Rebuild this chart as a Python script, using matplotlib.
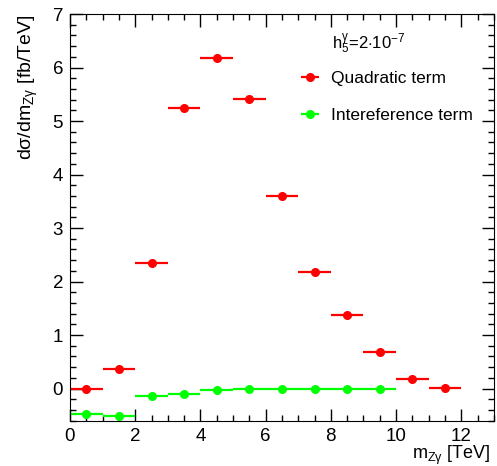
import numpy as np
import matplotlib
matplotlib.use("Agg")
import matplotlib.pyplot as plt
from matplotlib.ticker import MultipleLocator

plt.rcParams["font.family"] = ["Liberation Sans", "DejaVu Sans"]
plt.rcParams["mathtext.fontset"] = "custom"
plt.rcParams["mathtext.rm"] = "Liberation Sans"
plt.rcParams["mathtext.it"] = "Liberation Sans"

# bin centres (TeV)
bins_quad = [0.5, 1.5, 2.5, 3.5, 4.5, 5.5, 6.5, 7.5, 8.5, 9.5, 10.5, 11.5]
quadratic = [0.0, 0.37, 2.35, 5.24, 6.17, 5.41, 3.59, 2.17, 1.38, 0.69, 0.18, 0.01]

bins_int = [0.5, 1.5, 2.5, 3.5, 4.5, 5.5, 6.5, 7.5, 8.5, 9.5]
interference = [-0.48, -0.52, -0.13, -0.105, -0.025, -0.01, -0.005, -0.01, -0.005, -0.005]

RED = "#ff0000"
GREEN = "#00ff00"

fig = plt.figure(figsize=(4.97, 4.66), dpi=100)
ax = fig.add_axes([0.1408, 0.0972, 0.853, 0.8727])

ax.errorbar(bins_quad, quadratic, xerr=0.5, fmt="o", color=RED, ms=5.5,
            elinewidth=1.6, capsize=0, label="Quadratic term")
ax.errorbar(bins_int, interference, xerr=0.5, fmt="o", color=GREEN, ms=5.5,
            elinewidth=1.6, capsize=0, label="Intereference term")

ax.set_xlim(0, 13)
ax.set_ylim(-0.6, 7)
ax.xaxis.set_major_locator(MultipleLocator(2))
ax.xaxis.set_minor_locator(MultipleLocator(0.5))
ax.yaxis.set_major_locator(MultipleLocator(1))
ax.yaxis.set_minor_locator(MultipleLocator(0.2))
ax.tick_params(which="both", direction="in", top=True, right=True, labelsize=13.5)
ax.tick_params(which="major", length=9, width=1)
ax.tick_params(which="minor", length=4.5, width=1)
ax.tick_params(axis="x", which="major", pad=5)
ax.tick_params(axis="y", which="major", pad=5)

ax.set_xlabel(r"m$_{Z\gamma}$ [TeV]", fontsize=13, loc="right")
ax.xaxis.set_label_coords(0.992, -0.057)
ax.set_ylabel(r"d$\sigma$/dm$_{Z\gamma}$ [fb/TeV]", fontsize=14, loc="top", labelpad=9)

ax.text(0.705, 0.926, r"h$_5^{\gamma}$=2$\cdot$10$^{-7}$", transform=ax.transAxes,
        ha="center", va="center", fontsize=12)

ax.legend(loc="upper left", bbox_to_anchor=(0.533, 0.861), frameon=False, fontsize=12.5,
          handlelength=1.6, handletextpad=0.4, labelspacing=1.27,
          borderpad=0, borderaxespad=0)

fig.savefig("out.png", dpi=100)
